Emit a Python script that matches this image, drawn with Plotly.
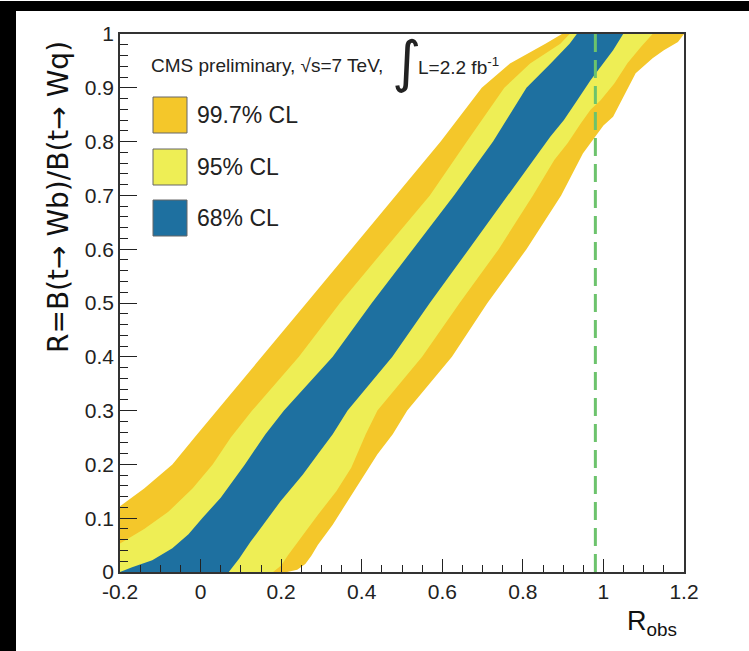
import plotly.graph_objects as go

# ---- band boundaries (x = R_obs, y = R) ----
L99_x = [-0.2, -0.2, -0.14, -0.07, -0.015, 0.041, 0.152, 0.263, 0.374, 0.485, 0.596, 0.698, 0.768, 0.856, 0.897]
L99_y = [0.0, 0.122, 0.155, 0.2, 0.25, 0.3, 0.4, 0.5, 0.6, 0.7, 0.8, 0.9, 0.945, 0.982, 1.0]
R99_x = [0.215, 0.24, 0.26, 0.275, 0.291, 0.328, 0.365, 0.402, 0.439, 0.477, 0.513, 0.624, 0.712, 0.809, 0.895,
         0.949, 0.97, 1.0, 1.024, 1.049, 1.08, 1.122, 1.15, 1.185, 1.2]
R99_y = [0.0, 0.004, 0.015, 0.03, 0.05, 0.088, 0.131, 0.175, 0.219, 0.256, 0.3, 0.4, 0.5, 0.6, 0.7,
         0.778, 0.8, 0.83, 0.846, 0.883, 0.927, 0.955, 0.97, 0.985, 1.0]

L95_x = [-0.2, -0.2, -0.14, -0.08, -0.02, 0.03, 0.075, 0.128, 0.244, 0.346, 0.457, 0.569, 0.661, 0.754, 0.818, 0.893, 0.916]
L95_y = [0.0, 0.053, 0.08, 0.112, 0.155, 0.2, 0.25, 0.3, 0.4, 0.5, 0.6, 0.7, 0.8, 0.9, 0.945, 0.982, 1.0]
R95_x = [0.18, 0.2, 0.217, 0.254, 0.291, 0.337, 0.374, 0.41, 0.439, 0.55, 0.643, 0.74, 0.825, 0.878, 0.911,
         0.944, 0.968, 0.993, 1.027, 1.06, 1.093, 1.122]
R95_y = [0.0, 0.012, 0.031, 0.069, 0.106, 0.15, 0.194, 0.256, 0.3, 0.4, 0.5, 0.6, 0.7, 0.766, 0.797,
         0.834, 0.859, 0.877, 0.908, 0.946, 0.976, 1.0]

L68_x = [-0.2, -0.17, -0.12, -0.07, -0.03, 0.004, 0.05, 0.11, 0.161, 0.207, 0.328, 0.425, 0.527, 0.629, 0.726, 0.809, 0.869, 0.916, 0.934]
L68_y = [0.0, 0.009, 0.022, 0.044, 0.07, 0.1, 0.138, 0.2, 0.256, 0.3, 0.4, 0.5, 0.6, 0.7, 0.8, 0.9, 0.945, 0.982, 1.0]
R68_x = [0.07, 0.096, 0.124, 0.161, 0.198, 0.254, 0.291, 0.328, 0.365, 0.476, 0.569, 0.666, 0.763, 0.844, 0.868,
         0.902, 0.935, 0.968, 0.993, 1.024, 1.049]
R68_y = [0.0, 0.025, 0.056, 0.094, 0.131, 0.181, 0.219, 0.256, 0.3, 0.4, 0.5, 0.6, 0.7, 0.784, 0.809,
         0.84, 0.877, 0.914, 0.939, 0.97, 1.0]

R_measured = 0.98   # green dashed line

band_names = ["99.7% CL", "95% CL", "68% CL"]
band_colors = ["#f4c72a", "#eeee55", "#1e70a0"]

x_tickvals = [-0.2, 0, 0.2, 0.4, 0.6, 0.8, 1.0, 1.2]
x_ticktext = ["-0.2", "0", "0.2", "0.4", "0.6", "0.8", "1", "1.2"]
y_tickvals = [0, 0.1, 0.2, 0.3, 0.4, 0.5, 0.6, 0.7, 0.8, 0.9, 1.0]
y_ticktext = ["0", "0.1", "0.2", "0.3", "0.4", "0.5", "0.6", "0.7", "0.8", "0.9", "1"]

FONT = "Liberation Sans, Arial, sans-serif"

fig = go.Figure()
bands = [(L99_x, L99_y, R99_x, R99_y), (L95_x, L95_y, R95_x, R95_y), (L68_x, L68_y, R68_x, R68_y)]
for (lx, ly, rx, ry), name, col in zip(bands, band_names, band_colors):
    px = list(lx) + list(reversed(rx))
    py = list(ly) + list(reversed(ry))
    fig.add_trace(go.Scatter(x=px, y=py, fill="toself", fillcolor=col, mode="lines",
                             line=dict(width=0, color=col), name=name, showlegend=False,
                             hoverinfo="skip"))

fig.add_trace(go.Scatter(x=[R_measured, R_measured], y=[0, 1], mode="lines",
                         line=dict(color="#6cc36c", width=3, dash="18px,8px"),
                         showlegend=False, hoverinfo="skip"))

L, R, T, B = 120, 65, 34, 79
W, H = 749, 651
pw, ph = W - L - R, H - T - B

def pxx(x):
    return (x - L) / pw

def pxy(y):
    return (H - B - y) / ph

shapes = []
# black frame pieces (top and left)
shapes.append(dict(type="rect", xref="paper", yref="paper", x0=pxx(-5), x1=pxx(16), y0=pxy(700), y1=pxy(1),
                   fillcolor="black", line=dict(width=0), layer="above"))
shapes.append(dict(type="rect", xref="paper", yref="paper", x0=pxx(-5), x1=pxx(760), y0=pxy(11), y1=pxy(1),
                   fillcolor="black", line=dict(width=0), layer="above"))
# legend boxes
box_tops = [97, 149, 200]
for top, col in zip(box_tops, band_colors):
    shapes.append(dict(type="rect", xref="paper", yref="paper", x0=pxx(153), x1=pxx(187),
                       y0=pxy(top + 36), y1=pxy(top), fillcolor=col,
                       line=dict(color="#666666", width=1)))

annotations = []
for top, name in zip(box_tops, band_names):
    annotations.append(dict(xref="paper", yref="paper", x=pxx(195), y=pxy(top + 18), text=name,
                            showarrow=False, xanchor="left", yanchor="middle",
                            font=dict(family=FONT, size=23, color="#222222")))
annotations.append(dict(xref="paper", yref="paper", x=pxx(149), y=pxy(66),
                        text="CMS preliminary, √s=7 TeV,", showarrow=False, xanchor="left",
                        yanchor="middle", font=dict(family=FONT, size=19, color="#222222")))
annotations.append(dict(xref="paper", yref="paper", x=pxx(406), y=pxy(62), text="∫",
                        showarrow=False, xanchor="center", yanchor="middle",
                        font=dict(family="DejaVu Sans", size=56, color="#222222")))
annotations.append(dict(xref="paper", yref="paper", x=pxx(416), y=pxy(66),
                        text="L=2.2 fb<sup>-1</sup>", showarrow=False, xanchor="left",
                        yanchor="middle", font=dict(family=FONT, size=19, color="#222222")))
annotations.append(dict(xref="paper", yref="paper", x=pxx(58), y=pxy(197),
                        text="R=B(t→ Wb)/B(t→ Wq)", textangle=-90, showarrow=False,
                        xanchor="center", yanchor="middle",
                        font=dict(family="DejaVu Sans", size=28, color="#111111")))
annotations.append(dict(xref="paper", yref="paper", x=pxx(679), y=pxy(623),
                        text="R<sub>obs</sub>", showarrow=False, xanchor="right", yanchor="middle",
                        font=dict(family=FONT, size=27, color="#111111")))

fig.update_layout(
    width=W, height=H, margin=dict(l=L, r=R, t=T, b=B),
    paper_bgcolor="white", plot_bgcolor="white",
    shapes=shapes, annotations=annotations, showlegend=False,
)
fig.update_xaxes(range=[-0.2, 1.2], tickvals=x_tickvals, ticktext=x_ticktext,
                 ticks="inside", ticklen=13, tickcolor="#222222", tickwidth=1,
                 minor=dict(ticks="inside", dtick=0.05, tick0=0, ticklen=7, tickcolor="#222222", showgrid=False),
                 showgrid=False, zeroline=False, showline=True, linecolor="#333333", linewidth=1.5,
                 mirror=True, tickfont=dict(family=FONT, size=21, color="#222222"))
fig.update_yaxes(range=[0, 1], tickvals=y_tickvals, ticktext=y_ticktext,
                 ticks="inside", ticklen=17, tickcolor="#222222", tickwidth=1,
                 minor=dict(ticks="inside", dtick=0.02, tick0=0, ticklen=8, tickcolor="#222222", showgrid=False),
                 showgrid=False, zeroline=False, showline=True, linecolor="#333333", linewidth=1.5,
                 mirror=True, tickfont=dict(family=FONT, size=21, color="#222222"))

fig.write_html("out.html")
